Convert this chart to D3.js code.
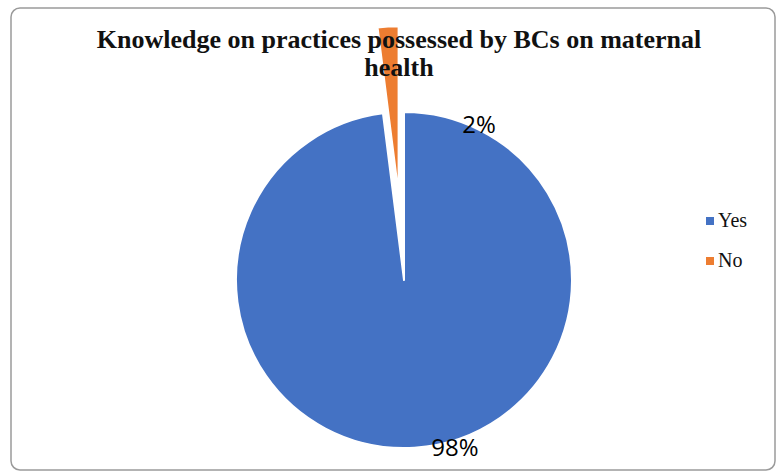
<!DOCTYPE html>
<html>
<head>
<meta charset="utf-8">
<script src="https://cdn.jsdelivr.net/npm/d3@7"></script>
<style>
  html, body { margin: 0; padding: 0; background: #ffffff; }
  svg { display: block; }
</style>
</head>
<body>
<svg id="chart" width="780" height="472"></svg>
<script>
// Chart data
const categories = ["Yes", "No"];
const values = [98, 2];
const valueLabels = ["98%", "2%"];
const colors = ["#4472C4", "#ED7D31"];
const titleLines = ["Knowledge on practices possessed by BCs on maternal", "health"];

const svg = d3.select("#chart");
const W = 780, H = 472;

// Frame
svg.append("rect")
  .attr("x", 11).attr("y", 8)
  .attr("width", W - 16).attr("height", H - 10)
  .attr("rx", 9).attr("ry", 9)
  .attr("fill", "#ffffff")
  .attr("stroke", "#9a9a9a")
  .attr("stroke-width", 1.5);

// Pie geometry
const cx = 404, cy = 280, R = 168;
const explode = [0, 86];

const pie = d3.pie().sort(null).value(d => d)
  .startAngle(0).endAngle(2 * Math.PI);
const arcs = pie(values);
const arc = d3.arc().innerRadius(0).outerRadius(R);

const g = svg.append("g").attr("transform", `translate(${cx},${cy})`);

g.selectAll("path.slice")
  .data(arcs)
  .join("path")
  .attr("class", "slice")
  .attr("transform", (d, i) => {
    const mid = (d.startAngle + d.endAngle) / 2;
    const dx = Math.sin(mid) * explode[i];
    const dy = -Math.cos(mid) * explode[i];
    return `translate(${dx},${dy})`;
  })
  .attr("d", arc)
  .attr("fill", (d, i) => colors[i])
  .attr("stroke", "#ffffff")
  .attr("stroke-width", 2)
  .attr("stroke-linejoin", "round");

// Title (drawn above the slices)
const title = svg.append("text")
  .attr("text-anchor", "middle")
  .attr("font-family", "'Liberation Serif', 'Times New Roman', serif")
  .attr("font-weight", "bold")
  .attr("font-size", 26)
  .attr("fill", "#111111");
titleLines.forEach((t, i) => {
  title.append("tspan")
    .attr("x", 399)
    .attr("y", 48 + i * 28)
    .text(t);
});

// Value labels
const labelPos = [[455, 456], [479, 133]];
svg.selectAll("text.vlabel")
  .data(arcs)
  .join("text")
  .attr("class", "vlabel")
  .attr("x", (d, i) => labelPos[i][0])
  .attr("y", (d, i) => labelPos[i][1])
  .attr("text-anchor", "middle")
  .attr("font-family", "'Open Sans', 'Noto Sans', sans-serif")
  .attr("font-size", 24)
  .attr("fill", "#000000")
  .text((d, i) => valueLabels[i]);

// Legend
const legend = svg.append("g").attr("transform", "translate(706,227)");
const item = legend.selectAll("g.item")
  .data(categories)
  .join("g")
  .attr("class", "item")
  .attr("transform", (d, i) => `translate(0,${i * 40})`);
item.append("rect")
  .attr("x", 0).attr("y", -10)
  .attr("width", 8).attr("height", 8)
  .attr("fill", (d, i) => colors[i]);
item.append("text")
  .attr("x", 12).attr("y", 0)
  .attr("font-family", "'Liberation Serif', 'Times New Roman', serif")
  .attr("font-size", 20)
  .attr("fill", "#111111")
  .text(d => d);
</script>
</body>
</html>
